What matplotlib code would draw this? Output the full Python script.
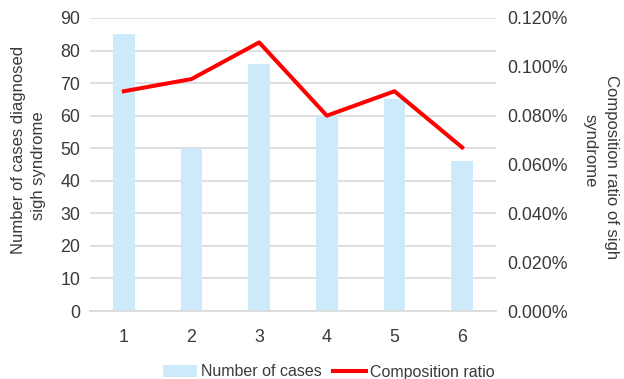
import matplotlib
matplotlib.use("Agg")
import matplotlib.pyplot as plt
from matplotlib.ticker import FuncFormatter

plt.rcParams['font.family'] = ['Liberation Sans', 'DejaVu Sans']

groups = [1, 2, 3, 4, 5, 6]
cases = [85, 50, 76, 60, 65, 46]
ratio = [0.090, 0.095, 0.110, 0.080, 0.090, 0.067]  # percent

text_color = '#3a3a3a'
grid_color = '#d9d9d9'

W, H = 624, 379
fig = plt.figure(figsize=(W / 100, H / 100), dpi=100)
ax = fig.add_axes([90 / W, (H - 311) / H, 406 / W, 293 / H])
ax2 = ax.twinx()

ax.bar(groups, cases, width=0.32, color='#cdeafb', label='Number of cases', zorder=2)
ax2.plot(groups, ratio, color='#ff0000', lw=2.9, label='Composition ratio', zorder=3)

ax.set_xlim(0.5, 6.5)
ax.set_ylim(0, 90)
ax.set_yticks(range(0, 91, 10))
ax2.set_ylim(0, 0.12)
ax2.set_yticks([0, 0.02, 0.04, 0.06, 0.08, 0.10, 0.12])
ax2.yaxis.set_major_formatter(FuncFormatter(lambda v, p: f"{v:.3f}%"))
ax.set_xticks(groups)

ax.yaxis.grid(True, color=grid_color, lw=1.2, zorder=0)
ax.set_axisbelow(True)
for a in (ax, ax2):
    for s in a.spines.values():
        s.set_visible(False)
    a.tick_params(length=0, labelsize=12.8, colors=text_color)
ax.spines['bottom'].set_visible(True)
ax.spines['bottom'].set_color(grid_color)
ax.spines['bottom'].set_linewidth(1.2)
ax.tick_params(axis='x', pad=13)
ax.tick_params(axis='y', pad=7)
ax2.tick_params(axis='y', pad=8)

# Axis titles, drawn line by line
def fig_text(x, y, s, rot):
    fig.text(x / W, 1 - y / H, s, rotation=rot, ha='center', va='center',
             fontsize=12, color=text_color)

fig_text(19, 150, 'Number of cases diagnosed', 90)
fig_text(39, 166, 'sigh syndrome', 90)
fig_text(611, 167, 'Composition ratio of sigh', 270)
fig_text(590, 151, 'syndrome', 270)

h1, l1 = ax.get_legend_handles_labels()
h2, l2 = ax2.get_legend_handles_labels()
fig.legend(h1 + h2, l1 + l2, loc='center', bbox_to_anchor=(329 / W, 1 - 372 / H),
           ncol=2, frameon=False, fontsize=11.5, handlelength=2.1,
           handletextpad=0.25, columnspacing=0.7, labelcolor=text_color,
           borderaxespad=0, borderpad=0)

fig.savefig('out.png', dpi=100)
